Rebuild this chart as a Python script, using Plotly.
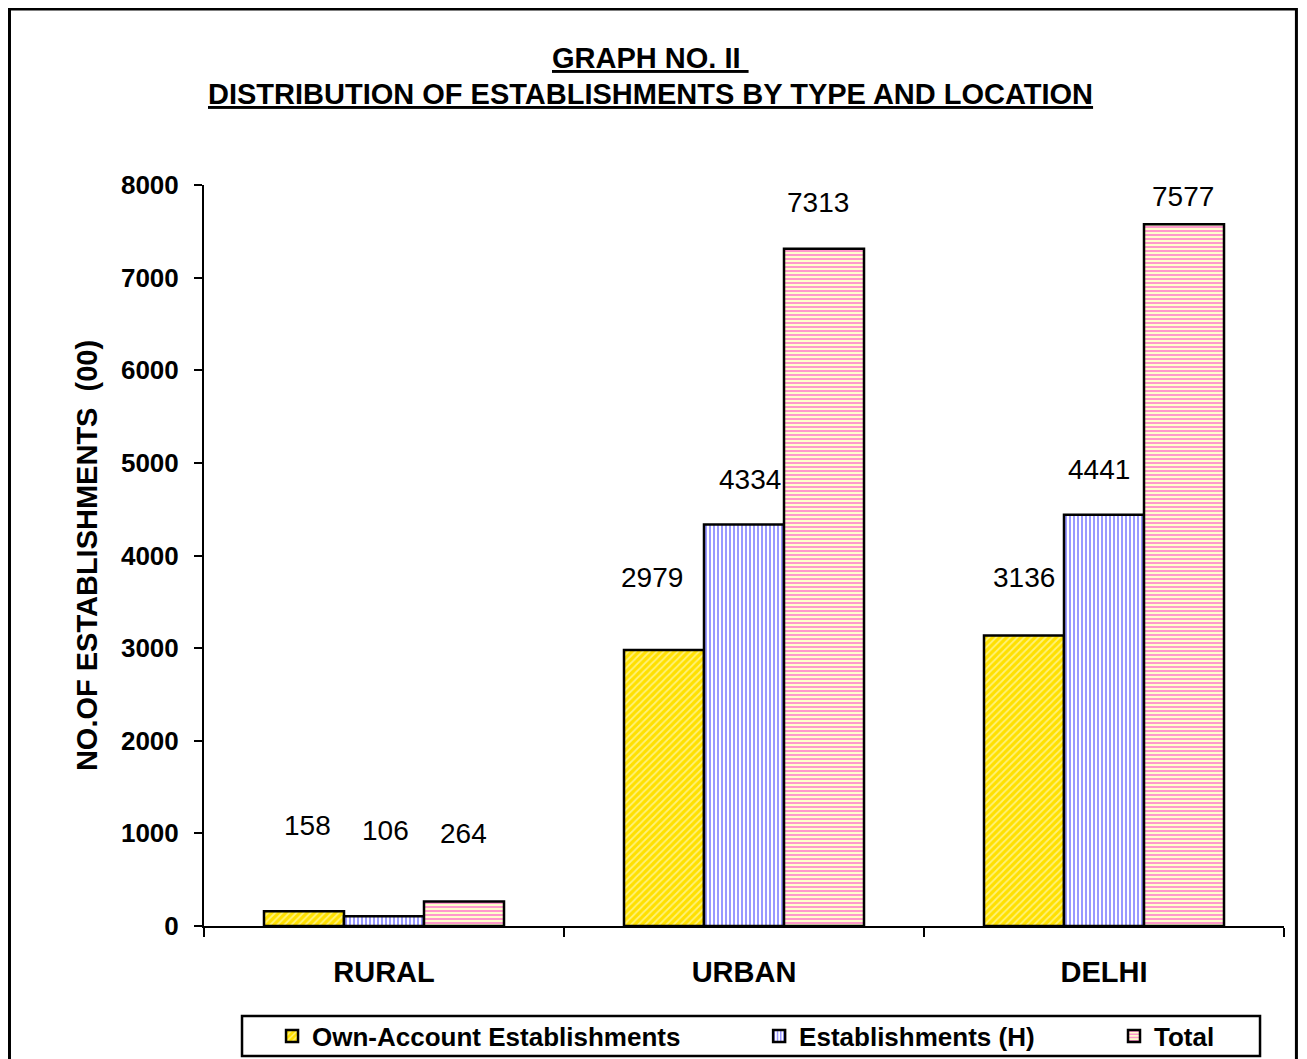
import plotly.graph_objects as go

locations = ["RURAL", "URBAN", "DELHI"]
own_account = [158, 2979, 3136]
establishments_h = [106, 4334, 4441]
total = [264, 7313, 7577]

series_names = ["Own-Account Establishments", "Establishments (H)", "Total"]
y_ticks = [0, 1000, 2000, 3000, 4000, 5000, 6000, 7000, 8000]

FONT = "Liberation Sans, Arial, sans-serif"

# Excel-like placement of the value labels (pixel nudges from bar top)
label_yshift = [[86, 73, 58], [86, 45, 45], [68, 46, 28]]
label_xtweak = [[3, -12, 0], [1, 6, -5], [-1, -6, -1]]

styles = [
    {"color": "#FFE000", "pattern": {"shape": "/", "fgcolor": "#FFF27A", "bgcolor": "#FFE000",
                                     "size": 5, "solidity": 0.35, "fillmode": "replace"}},
    {"color": "#9999FF", "pattern": {"shape": "|", "fgcolor": "#9999FF", "bgcolor": "#FFFFFF",
                                     "size": 4, "solidity": 0.5, "fillmode": "replace"}},
    {"color": "#FF99CC", "pattern": {"shape": "-", "fgcolor": "#FF99CC", "bgcolor": "#FFFFCC",
                                     "size": 4, "solidity": 0.5, "fillmode": "replace"}},
]
legend_ids = ["legend", "legend2", "legend3"]
legend_x = [0.063, 0.514, 0.8426]

fig = go.Figure()
all_values = [own_account, establishments_h, total]
for name, values, st, lg in zip(series_names, all_values, styles, legend_ids):
    fig.add_trace(
        go.Bar(
            x=locations,
            y=values,
            name=name,
            legend=lg,
            marker={
                "color": st["color"],
                "pattern": st["pattern"],
                "line": {"color": "#000000", "width": 2.5},
            },
        )
    )

annotations = []
group_offset = [-80, 0, 80]
for s, values in enumerate(all_values):
    for c, (loc, v) in enumerate(zip(locations, values)):
        annotations.append(
            dict(
                x=loc, y=v, xref="x", yref="y",
                text=str(v), showarrow=False,
                xshift=group_offset[s] + label_xtweak[s][c],
                yshift=label_yshift[s][c],
                yanchor="middle",
                font={"family": FONT, "size": 28, "color": "#000000"},
            )
        )

annotations.append(
    dict(
        x=0.413, y=1.1714, xref="paper", yref="paper", xanchor="center", yanchor="middle",
        text="<b><u>GRAPH NO. II </u></b>", showarrow=False,
        font={"family": FONT, "size": 29, "color": "#000000"},
    )
)
annotations.append(
    dict(
        x=0.413, y=1.1228, xref="paper", yref="paper", xanchor="center", yanchor="middle",
        text="<b><u>DISTRIBUTION OF ESTABLISHMENTS BY TYPE AND LOCATION</u></b>", showarrow=False,
        font={"family": FONT, "size": 29, "color": "#000000"},
    )
)

legend_common = {
    "orientation": "h",
    "xanchor": "left",
    "yref": "container",
    "y": 0.0219, "yanchor": "middle",
    "bgcolor": "rgba(0,0,0,0)",
    "borderwidth": 0,
    "font": {"family": FONT, "size": 26, "color": "#000000", "weight": "bold"},
    "itemclick": False,
}

fig.update_layout(
    width=1299,
    height=1051,
    paper_bgcolor="#FFFFFF",
    plot_bgcolor="#FFFFFF",
    margin={"l": 196, "r": 23, "t": 177, "b": 133, "autoexpand": False},
    barmode="group",
    bargap=1 / 3,
    bargroupgap=0,
    font={"family": FONT, "color": "#000000"},
    xaxis={
        "showline": True, "linecolor": "#000000", "linewidth": 2,
        "ticks": "outside", "tickson": "boundaries", "ticklen": 9, "tickwidth": 2,
        "tickcolor": "#000000", "showgrid": False, "automargin": False,
        "tickfont": {"family": FONT, "size": 29, "color": "#000000", "weight": "bold"},
        "ticklabelstandoff": 19,
    },
    yaxis={
        "range": [0, 8000],
        "tickvals": y_ticks,
        "showline": True, "linecolor": "#000000", "linewidth": 2,
        "ticks": "outside", "ticklen": 8, "tickwidth": 2, "tickcolor": "#000000",
        "showgrid": False, "zeroline": False, "automargin": False,
        "tickfont": {"family": FONT, "size": 26, "color": "#000000", "weight": "bold"},
        "ticklabelstandoff": 10,
        "title": {
            "text": "NO.OF ESTABLISHMENTS  (00)",
            "font": {"family": FONT, "size": 29, "color": "#000000", "weight": "bold"},
            "standoff": 15,
        },
    },
    legend=dict(legend_common, x=legend_x[0]),
    legend2=dict(legend_common, x=legend_x[1]),
    legend3=dict(legend_common, x=legend_x[2]),
    annotations=annotations,
    shapes=[
        # outer chart frame
        dict(type="rect", xref="paper", yref="paper",
             x0=-0.1801, x1=1.0115, y0=-0.2, y1=1.2375,
             line={"color": "#000000", "width": 3}, fillcolor="rgba(0,0,0,0)"),
        # legend frame
        dict(type="rect", xref="paper", yref="paper",
             x0=0.0352, x1=0.9778, y0=-0.1754, y1=-0.1215,
             line={"color": "#000000", "width": 2.5}, fillcolor="rgba(0,0,0,0)"),
    ],
    showlegend=True,
)

fig.write_html("out.html")
